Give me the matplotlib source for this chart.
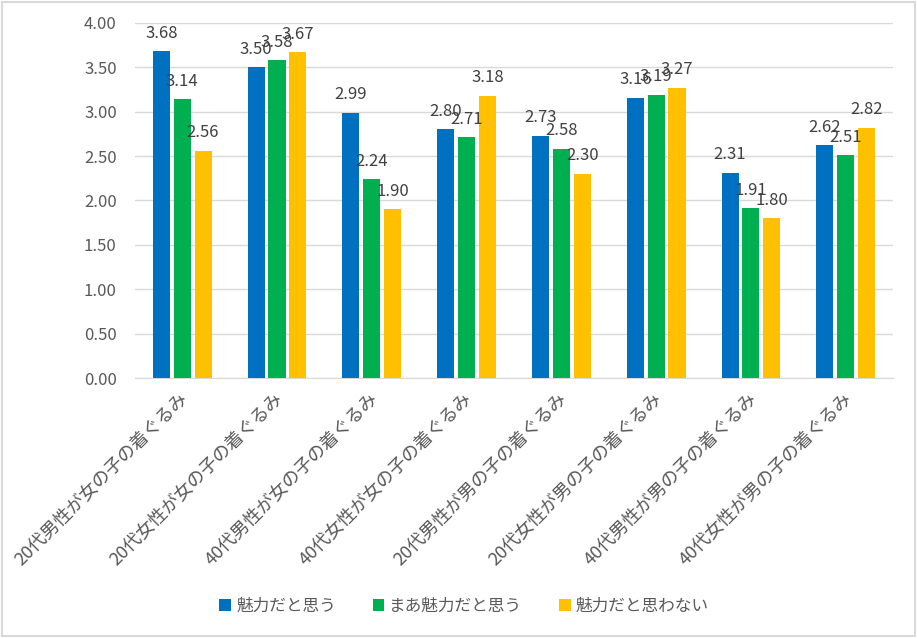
import matplotlib.pyplot as plt
import numpy as np
from matplotlib.transforms import ScaledTranslation

plt.rcParams['font.family'] = ['Noto Sans CJK JP', 'DejaVu Sans']

categories = [
    "20代男性が女の子の着ぐるみ",
    "20代女性が女の子の着ぐるみ",
    "40代男性が女の子の着ぐるみ",
    "40代女性が女の子の着ぐるみ",
    "20代男性が男の子の着ぐるみ",
    "20代女性が男の子の着ぐるみ",
    "40代男性が男の子の着ぐるみ",
    "40代女性が男の子の着ぐるみ",
]
series_names = ["魅力だと思う", "まあ魅力だと思う", "魅力だと思わない"]
miryoku = [3.68, 3.50, 2.99, 2.80, 2.73, 3.16, 2.31, 2.62]
maa_miryoku = [3.14, 3.58, 2.24, 2.71, 2.58, 3.19, 1.91, 2.51]
omowanai = [2.56, 3.67, 1.90, 3.18, 2.30, 3.27, 1.80, 2.82]
yticks = [0.0, 0.5, 1.0, 1.5, 2.0, 2.5, 3.0, 3.5, 4.0]

colors = ["#0070C0", "#00B050", "#FFC000"]
text_col = "#404040"
tick_col = "#595959"
grid_col = "#d9d9d9"

fig = plt.figure(figsize=(9.17, 6.38), dpi=100)
ax = fig.add_axes([0.147, 0.4075, 0.827, 0.5565])

x = np.arange(len(categories))
w = 0.18
step = 0.22
for i, (vals, name, c) in enumerate(zip([miryoku, maa_miryoku, omowanai], series_names, colors)):
    pos = x + (i - 1) * step
    ax.bar(pos, vals, width=w, color=c, label=name, zorder=3)
    for xp, v in zip(pos, vals):
        ax.annotate(f"{v:.2f}", (xp, v), xytext=(0, 13), textcoords="offset points",
                    ha="center", va="center", fontsize=12, color=text_col, zorder=4)

ax.set_xlim(-0.5, len(categories) - 0.5)
ax.set_ylim(0, 4.0)
ax.set_yticks(yticks)
ax.set_yticklabels([f"{t:.2f}" for t in yticks], fontsize=12, color=tick_col)
ax.set_xticks(x)
ax.set_xticklabels(categories, rotation=45, ha="right", va="center",
                   rotation_mode="anchor", fontsize=13, color=tick_col)
ax.tick_params(axis="both", length=0)
ax.tick_params(axis="x", pad=13)
ax.tick_params(axis="y", pad=13)
# nudge category labels a little to the right, as in the reference
for lab in ax.get_xticklabels():
    lab.set_transform(lab.get_transform() + ScaledTranslation(2 / 72, 0, fig.dpi_scale_trans))
ax.grid(axis="y", color=grid_col, linewidth=1, zorder=0)
for s in ["top", "right", "left"]:
    ax.spines[s].set_visible(False)
ax.spines["bottom"].set_color(grid_col)

leg = fig.legend(loc="center", bbox_to_anchor=(0.506, 0.05), ncol=3, frameon=False,
                 fontsize=12, handlelength=0.7, handleheight=0.7, handletextpad=0.3,
                 columnspacing=2.2)
for t in leg.get_texts():
    t.set_color(tick_col)

border = plt.Rectangle((0.002, 0.003), 0.996, 0.994, transform=fig.transFigure,
                       fill=False, edgecolor=grid_col, linewidth=1.5)
fig.patches.append(border)

fig.savefig("out.png", dpi=100)
